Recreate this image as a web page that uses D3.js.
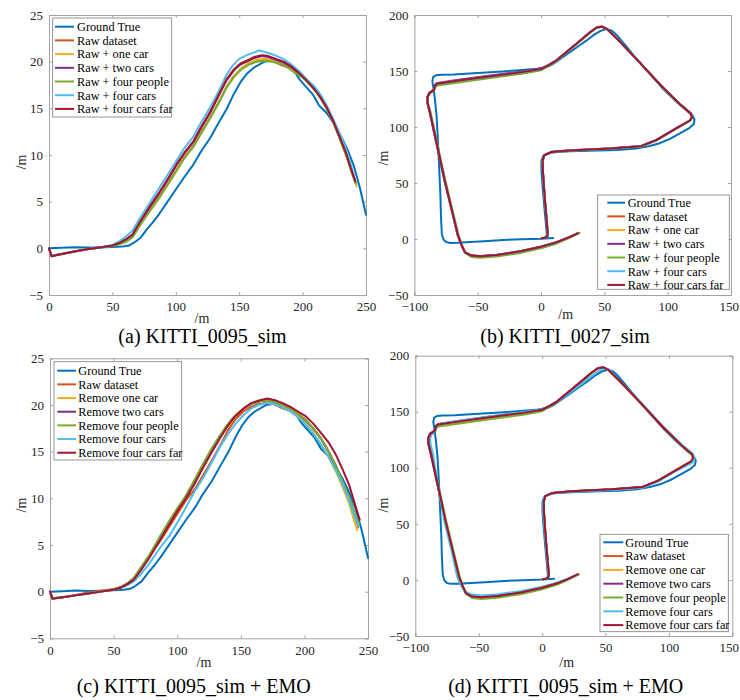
<!DOCTYPE html>
<html><head><meta charset="utf-8">
<script src="https://cdn.jsdelivr.net/npm/d3@7"></script>
<style>body{margin:0;background:#fff}svg{display:block}text{font-family:"Liberation Serif","Times New Roman",serif}</style>
</head><body><svg id="c" width="740" height="700"></svg>
<script>
// ---------- data ----------
const seriesColors = ['#0072BD','#D95319','#EDB120','#7E2F8E','#77AC30','#4DBEEE','#A2142F'];
const namesRaw = ['Ground True','Raw dataset','Raw + one car','Raw + two cars','Raw + four people','Raw + four cars','Raw + four cars far'];
const namesEMO = ['Ground True','Raw dataset','Remove one car','Remove two cars','Remove four people','Remove four cars','Remove four cars far'];
const titles = ['(a) KITTI_0095_sim','(b) KITTI_0027_sim','(c) KITTI_0095_sim + EMO','(d) KITTI_0095_sim + EMO'];
const ticksX0095 = [0,50,100,150,200,250];
const ticksY0095 = [-5,0,5,10,15,20,25];
const ticksX0027 = [-100,-50,0,50,100,150];
const ticksY0027 = [-50,0,50,100,150,200];

// KITTI_0095 trajectories
const a_gt = [[0,0],[10,0.05],[20,0.12],[30,0.08],[40,0.1],[50,0.15],[58,0.2],[63,0.3],[67,0.6],[72,1.1],[77,2.0],[82,2.8],[87,3.7],[93,4.9],[100,6.3],[107,7.7],[114,9.0],[120,10.4],[127,11.8],[134,13.5],[140,14.9],[146,16.6],[151,17.8],[156,18.7],[161,19.3],[166,19.7],[170,20.0],[175,20.1],[180,20.1],[186,19.9],[191,19.5],[194,18.9],[197,18.2],[202,17.4],[208,16.5],[213,15.3],[219,14.5],[225,13.3],[230,12.1],[235,10.7],[240,9.0],[245,6.6],[250,3.6]];
const a_raw = [[0,0],[2,-0.8],[10,-0.6],[20,-0.35],[30,-0.1],[40,0.1],[50,0.28],[56,0.5],[61,0.8],[66,1.3],[72,2.6],[80,4.2],[87,5.5],[94,7.0],[101,8.5],[107,9.8],[114,11.0],[120,12.4],[127,14.0],[134,15.7],[140,17.3],[146,18.5],[152,19.3],[158,19.8],[164,20.1],[170,20.2],[176,20.1],[182,19.7],[188,19.4],[194,18.9],[200,18.4],[206,17.6],[212,16.6],[218,15.3],[224,13.7],[230,11.6],[235,9.8],[239,8.2],[242.3,6.9]];
const a_one = [[0,0],[2,-0.8],[10,-0.6],[20,-0.35],[30,-0.1],[40,0.1],[50,0.27],[56,0.5],[61,0.75],[66,1.25],[72,2.55],[80,4.15],[87,5.45],[94,6.95],[101,8.45],[107,9.75],[114,10.95],[120,12.35],[127,13.95],[134,15.65],[140,17.25],[146,18.5],[152,19.35],[158,19.9],[164,20.2],[170,20.3],[176,20.2],[182,19.9],[188,19.5],[194,18.9],[200,18.4],[206,17.6],[212,16.6],[218,15.3],[224,13.7],[230,11.6],[235,9.7],[239,8.0],[242.8,6.6]];
const a_two = [[0,0],[2,-0.85],[10,-0.6],[20,-0.35],[30,-0.1],[40,0.1],[50,0.3],[56,0.58],[61,0.95],[66,1.45],[72,2.8],[80,4.5],[87,5.9],[94,7.4],[101,9.0],[107,10.2],[114,11.4],[120,12.9],[127,14.5],[134,16.4],[140,18.0],[146,19.1],[151,19.7],[156,20.0],[162,20.4],[168,20.6],[173,20.5],[179,20.2],[185,19.9],[191,19.4],[197,18.8],[203,18.0],[209,17.1],[214,16.2],[219,15.0],[224,13.6],[229,11.9],[234,10.2],[238,8.5],[241.5,7.1]];
const a_people = [[0,0],[2,-0.8],[10,-0.6],[20,-0.35],[30,-0.1],[40,0.1],[50,0.25],[56,0.45],[61,0.7],[66,1.2],[72,2.5],[80,4.1],[87,5.4],[94,6.9],[101,8.4],[107,9.7],[114,10.9],[120,12.3],[127,13.9],[134,15.6],[140,17.2],[146,18.4],[152,19.2],[158,19.7],[164,20.0],[170,20.1],[176,20.0],[182,19.8],[188,19.4],[194,18.8],[200,18.3],[206,17.5],[212,16.5],[218,15.2],[224,13.6],[230,11.5],[235,9.7],[239,8.1],[242,6.9]];
const a_cars = [[0,0],[2,-0.8],[10,-0.6],[20,-0.35],[30,-0.1],[40,0.1],[50,0.35],[56,0.8],[61,1.3],[66,1.9],[72,3.3],[80,5.0],[87,6.5],[94,8.0],[101,9.5],[107,10.8],[114,12.0],[120,13.5],[127,15.1],[134,16.9],[140,18.6],[145,19.6],[150,20.3],[156,20.7],[162,21.0],[166,21.2],[171,21.0],[176,20.8],[180,20.6],[186,20.2],[192,19.6],[198,18.9],[204,18.0],[209,17.4],[214,16.5],[219,15.3],[224,13.9],[229,12.4],[234,10.8],[238,9.0],[241,7.4]];
const a_far = [[0,0],[2,-0.85],[10,-0.6],[20,-0.35],[30,-0.1],[40,0.1],[50,0.3],[56,0.6],[61,1.0],[66,1.5],[72,2.9],[80,4.6],[87,6.0],[94,7.5],[101,9.1],[107,10.3],[114,11.5],[120,13.0],[127,14.6],[134,16.5],[140,18.1],[146,19.2],[151,19.8],[156,20.1],[162,20.5],[168,20.7],[173,20.6],[179,20.3],[185,20.0],[191,19.5],[197,18.8],[203,18.0],[209,17.1],[214,16.2],[219,15.1],[224,13.7],[229,12.0],[234,10.3],[238,8.6],[241.5,7.2]];

const c_one = [[0,0],[2,-0.7],[10,-0.6],[20,-0.4],[30,-0.2],[40,0.0],[50,0.2],[56,0.48],[61,0.85],[66,1.4],[71,2.35],[78,3.75],[86,5.6],[93,7.2],[100,8.75],[106,9.95],[113,11.6],[120,13.4],[127,15.1],[133,16.45],[139,17.7],[145,18.75],[152,19.6],[158,20.1],[165,20.4],[171,20.5],[177,20.3],[183,19.9],[189,19.4],[195,18.8],[201,18.0],[207,17.0],[213,15.8],[219,14.4],[225,12.8],[230,11.2],[235,9.5],[238.5,7.9],[241.5,6.6]];
const c_two = [[0,0],[2,-0.7],[10,-0.6],[20,-0.4],[30,-0.2],[40,0.0],[50,0.2],[56,0.5],[61,0.9],[66,1.45],[71,2.45],[78,3.85],[86,5.75],[93,7.35],[100,8.85],[106,10.05],[113,11.75],[120,13.55],[127,15.25],[133,16.55],[139,17.75],[145,18.75],[152,19.6],[158,20.1],[165,20.4],[171,20.5],[177,20.3],[183,20.0],[189,19.6],[195,19.1],[201,18.4],[207,17.5],[213,16.4],[219,15.0],[225,13.4],[230,11.8],[235,10.1],[239,8.5],[242.5,7.1]];
const c_people = [[0,0],[2,-0.7],[10,-0.6],[20,-0.4],[30,-0.2],[40,0.0],[50,0.2],[56,0.5],[61,0.9],[66,1.5],[71,2.5],[78,3.9],[86,5.8],[93,7.4],[100,8.9],[106,10.1],[113,11.8],[120,13.6],[127,15.3],[133,16.6],[139,17.8],[145,18.8],[152,19.6],[158,20.1],[165,20.4],[171,20.5],[177,20.3],[183,20.0],[189,19.6],[195,19.1],[201,18.4],[207,17.5],[213,16.4],[219,15.0],[225,13.4],[230,11.8],[235,10.2],[239,8.6],[243,7.2]];
const c_cars = [[0,0],[2,-0.7],[10,-0.6],[20,-0.4],[30,-0.2],[40,0.0],[50,0.2],[56,0.4],[61,0.7],[66,1.1],[71,1.8],[78,3.0],[86,4.6],[94,6.0],[101,7.6],[108,9.3],[114,10.8],[120,12.1],[127,13.8],[134,15.6],[140,16.9],[146,18.0],[152,18.9],[158,19.6],[164,20.0],[170,20.2],[176,20.1],[182,19.8],[188,19.4],[194,18.8],[200,18.1],[206,17.1],[212,16.0],[218,14.7],[224,13.2],[229,11.8],[234,10.2],[238,8.6],[242.5,7.0]];
const c_far = [[0,0],[2,-0.75],[10,-0.6],[20,-0.4],[30,-0.2],[40,0.0],[50,0.2],[56,0.45],[61,0.8],[66,1.3],[71,2.2],[78,3.6],[86,5.4],[93,7.0],[100,8.6],[106,9.8],[113,11.4],[120,13.2],[127,14.9],[133,16.3],[139,17.6],[145,18.7],[152,19.6],[158,20.2],[165,20.5],[171,20.7],[177,20.5],[183,20.2],[189,19.8],[195,19.3],[201,18.8],[207,18.0],[213,17.0],[219,16.0],[225,14.6],[230,13.1],[235,11.5],[239,9.7],[243.5,7.7]];

// KITTI_0027 trajectories
const b_gt = [[9.5,1],[0,0.3],[-15,-0.3],[-30,-0.9],[-45,-2.0],[-56,-2.7],[-66,-3.3],[-72,-3.5],[-75,-2.7],[-77,-0.5],[-78.3,4],[-79,20],[-79.5,40],[-80.5,65],[-81.5,90],[-82.5,110],[-83.8,125],[-85,135],[-85.8,141],[-85.2,144.5],[-83,146.2],[-78,146.6],[-69,146.9],[-50,148.2],[-30,149.6],[-15,150.8],[-3,152],[4.5,153.5],[9.5,156.2],[16,161.5],[23,167],[30,172.5],[36,177.3],[42,182.5],[47,185.8],[52,187.4],[56,186],[60,181.8],[67,172.5],[75,161.2],[85,148.5],[96,134.5],[106,123.5],[115,114.5],[119.5,110.5],[121.2,106.5],[120.5,102.5],[117,99],[110,94.5],[101.8,89.4],[93,85.3],[85,82.8],[75,80.8],[60,79.5],[45,79],[23,78.3],[10,77.4],[5,76.2],[1.8,74.2],[0.3,70],[0.3,62],[1,50],[2.2,34],[3.3,20],[4.3,8],[4.6,4],[4,2]];
const b_raw = [[29,5],[22,1.4],[12,-3.2],[0,-7.1],[-16,-11.2],[-35,-14.5],[-48,-15.7],[-55,-15],[-60,-12],[-62.5,-6],[-65.5,3],[-70,24],[-76,52],[-82.5,86],[-87.5,112],[-89.5,121],[-89.7,126.6],[-88,130.4],[-84.5,132.8],[-83.5,136.8],[-82,138.2],[-66.6,140.8],[-40,145],[-15,148.6],[0,151.5],[6,155],[12,159.2],[28,174.2],[39,184.7],[44,188.7],[48,189.5],[52,187.5],[62,176.4],[78,157.4],[95,136.5],[110,119.9],[118.2,111.9],[119.2,108.7],[117.5,105.7],[105,97.5],[91,88.2],[79,82.8],[55,80.7],[23,79],[8,77.5],[2.5,74.7],[1.3,70],[1.5,60],[2.8,38],[4.8,12],[5.2,5],[4.9,2.4],[3,1.1],[0.5,0.6]];
const b_one = [[29,5],[22,1.5],[12,-3.1],[0,-7],[-16,-11.1],[-35,-14.4],[-48,-15.6],[-55,-14.9],[-60,-12],[-62.5,-6],[-65.5,3],[-70,24],[-76,52],[-82.5,86],[-87.5,112],[-89.5,121],[-89.7,126.6],[-88,130.5],[-84.5,133],[-83.5,137],[-82,138.4],[-66.6,141],[-40,145.2],[-15,148.8],[0,151.7],[6,155.1],[12,159.3],[28,174.3],[39,184.8],[44,188.8],[48,189.6],[52,187.6],[62,176.5],[78,157.5],[95,136.6],[110,120],[118.2,112],[119.2,108.8],[117.5,105.8],[105,97.6],[91,88.3],[79,82.9],[55,80.8],[23,79.1],[8,77.6],[2.5,74.8],[1.3,70],[1.5,60],[2.8,38],[4.8,12],[5.2,5],[4.9,2.4],[3,1.1],[0.5,0.6]];
const b_two = [[29,5.2],[22,1.7],[12,-2.8],[0,-6.6],[-16,-10.7],[-35,-14],[-48,-15.2],[-55,-14.6],[-60.3,-11.8],[-62.8,-6],[-65.8,3],[-70.3,24],[-76.3,52],[-82.8,86],[-87.8,112],[-89.7,121],[-89.9,126.8],[-88.2,130.8],[-84.7,133.4],[-83.7,137.8],[-82,139.4],[-66.6,142],[-40,146],[-15,149.5],[0,152.2],[6,155.5],[12,159.6],[28,174.6],[39,185],[44,189],[48,189.8],[52,187.8],[62,176.7],[78,157.7],[95,136.8],[110,120.2],[118.4,112.2],[119.4,108.9],[117.7,105.9],[105,97.8],[91,88.5],[79,83.1],[55,81],[23,79.3],[8,77.8],[2.5,74.9],[1.3,70],[1.5,60],[2.8,38],[4.8,12],[5.2,5],[4.9,2.4],[3,1.1],[0.5,0.6]];
const b_people = [[30.5,5.5],[23,1.2],[12,-4.2],[0,-8.2],[-16,-12.4],[-35,-15.6],[-48,-16.8],[-55,-16],[-59.5,-12.8],[-62,-6.5],[-65,3],[-69.5,24],[-75.5,52],[-82,86],[-87,112],[-89.2,121],[-89.4,126.4],[-87.8,130],[-84.5,132.4],[-83.5,135.8],[-82,137],[-66.6,139.6],[-40,143.8],[-15,147.6],[0,150.6],[6,154.6],[12,158.9],[28,174],[39,184.6],[44,188.6],[48,189.4],[52,187.4],[62,176.3],[78,157.3],[95,136.4],[110,119.8],[118,111.7],[119,108.5],[117.3,105.4],[105,97.2],[91,87.9],[79,82.5],[55,80.5],[23,78.8],[8,77.3],[2.5,74.5],[1.3,70],[1.5,60],[2.8,38],[4.8,12],[5.2,5],[4.9,2.4],[3,1.1],[0.5,0.6]];
const b_cars = [[28.5,4.9],[22,1.4],[12,-3],[0,-6.9],[-16,-11],[-35,-14.3],[-48,-15.5],[-55,-14.8],[-60,-11.9],[-62.5,-6],[-65.5,3],[-70,24],[-76,52],[-82.5,86],[-87.5,112],[-89.5,121],[-89.7,126.6],[-88,130.5],[-84.5,133],[-83.5,137.2],[-82,138.6],[-66.6,141.2],[-40,145.4],[-15,149],[0,151.8],[6,155.2],[12,159.3],[28,174.3],[39,184.8],[44,188.8],[48,189.6],[52,187.6],[62,176.5],[78,157.5],[95,136.6],[110,120],[118.2,112],[119.2,108.8],[117.5,105.8],[105,97.6],[91,88.3],[79,82.9],[55,80.8],[23,79.1],[8,77.6],[2.5,74.8],[1.3,70],[1.5,60],[2.8,38],[4.8,12],[5.2,5],[4.9,2.4],[3,1.1],[0.5,0.6]];
const b_far = [[29,5],[22,1.5],[12,-3],[0,-6.9],[-16,-11],[-35,-14.3],[-48,-15.5],[-55,-14.8],[-60,-11.9],[-62.5,-6],[-65.5,3],[-70,24],[-76,52],[-82.5,86],[-87.5,112],[-89.5,121],[-89.7,126.6],[-88,130.5],[-84.5,133],[-83.5,137.2],[-82,138.6],[-66.6,141.2],[-40,145.4],[-15,149],[0,151.8],[6,155.2],[12,159.3],[28,174.3],[39,184.8],[44,188.8],[48,189.6],[52,187.6],[62,176.5],[78,157.5],[95,136.6],[110,120],[118.2,112],[119.2,108.8],[117.5,105.8],[105,97.6],[91,88.3],[79,82.9],[55,80.8],[23,79.1],[8,77.6],[2.5,74.8],[1.3,70],[1.5,60],[2.8,38],[4.8,12],[5.2,5],[4.9,2.4],[3,1.1],[0.5,0.6]];

const d_one = [[28,4.8],[21.5,1.3],[12,-3.1],[0,-7],[-16,-11.1],[-35,-14.4],[-48,-15.6],[-55,-14.9],[-60,-12],[-62.5,-6],[-65.5,3],[-70,24],[-76,52],[-82.5,86],[-87.5,112],[-89.5,121],[-89.7,126.6],[-88,130.5],[-84.5,133],[-83.5,137],[-82,138.4],[-66.6,141],[-40,145.2],[-15,148.8],[0,151.7],[6,155.1],[12,159.3],[28,174.3],[39,184.8],[44,188.8],[48,189.6],[52,187.6],[62,176.5],[78,157.5],[95,136.6],[110,120],[118.2,112],[119.2,108.8],[117.5,105.8],[105,97.6],[91,88.3],[79,82.9],[55,80.8],[23,79.1],[8,77.6],[2.5,74.8],[1.3,70],[1.5,60],[2.8,38],[4.8,12],[5.2,5],[4.9,2.4],[3,1.1],[0.5,0.6]];
const d_two = [[28,5],[21.5,1.6],[12,-2.8],[0,-6.6],[-16,-10.7],[-35,-14],[-48,-15.2],[-55,-14.6],[-60.3,-11.8],[-62.8,-6],[-65.8,3],[-70.3,24],[-76.3,52],[-82.8,86],[-87.8,112],[-89.7,121],[-89.9,126.8],[-88.2,130.8],[-84.7,133.4],[-83.7,137.8],[-82,139.2],[-66.6,141.8],[-40,145.9],[-15,149.4],[0,152.1],[6,155.4],[12,159.5],[28,174.5],[39,185],[44,189],[48,189.8],[52.5,187.6],[62,176.9],[78,158.1],[95,137.2],[110,120.6],[118.6,112.4],[119.6,109],[117.8,105.8],[105,97.5],[91,88.2],[79,82.8],[55,80.8],[23,79.1],[8,77.6],[2.5,74.8],[1.3,70],[1.5,60],[2.8,38],[4.8,12],[5.2,5],[4.9,2.4],[3,1.1],[0.5,0.6]];
const d_people = [[28.5,5.2],[22,1],[12,-4.2],[0,-8.3],[-16,-12.5],[-35,-15.8],[-48,-17],[-55,-16.2],[-59.5,-12.9],[-62,-6.5],[-65,3],[-69.5,24],[-75.5,52],[-82,86],[-87,112],[-89.2,121],[-89.4,126.4],[-87.8,130],[-84.5,132.4],[-83.5,135.6],[-82,136.8],[-66.6,139.4],[-40,143.6],[-15,147.4],[0,150.5],[6,154.5],[12,158.8],[28,174],[39,184.6],[44,188.6],[48,189.4],[52,187.4],[62,176.3],[78,157.3],[95,136.4],[110,119.8],[118,111.7],[119,108.5],[117.3,105.4],[105,97.2],[91,87.9],[79,82.5],[55,80.5],[23,78.8],[8,77.3],[2.5,74.5],[1.3,70],[1.5,60],[2.8,38],[4.8,12],[5.2,5],[4.9,2.4],[3,1.1],[0.5,0.6]];
const d_cars = [[28,5],[21,1.2],[11,-2.6],[0,-6],[-16,-9.8],[-35,-12.8],[-48,-13.8],[-56,-12.8],[-61,-10],[-64,-5],[-67,3],[-71,24],[-77,52],[-82.5,86],[-86,112],[-88,121],[-88.3,126.6],[-86.8,130.5],[-84,133],[-83.3,137.5],[-81.5,139.2],[-66.6,141.8],[-40,146],[-15,149.7],[0,152.2],[6,155.4],[12,159],[28,172.2],[39,181.8],[45,186.6],[49,188.6],[53,187.4],[62,176.8],[78,158],[95,137.2],[110,120.8],[118.8,112.6],[120.3,108.4],[118.5,104.6],[105,96.8],[91,87.5],[79,82.2],[55,80.2],[23,78.7],[8,77.4],[2,74.6],[0.8,70],[1,60],[2.5,38],[4.5,12],[5,5],[4.7,2.4],[3,1.1],[0.5,0.6]];
const d_far = [[28,5],[21.5,1.4],[12,-3],[0,-6.9],[-16,-11],[-35,-14.3],[-48,-15.5],[-55,-14.8],[-60,-11.9],[-62.5,-6],[-65.5,3],[-70,24],[-76,52],[-82.5,86],[-87.5,112],[-89.5,121],[-89.7,126.6],[-88,130.5],[-84.5,133],[-83.5,137.2],[-82,138.6],[-66.6,141.2],[-40,145.4],[-15,149],[0,151.8],[6,155.2],[12,159.3],[28,174.3],[39,184.8],[44,188.8],[48,189.6],[52,187.6],[62,176.5],[78,157.5],[95,136.6],[110,120],[118.2,112],[119.2,108.8],[117.5,105.8],[105,97.6],[91,88.3],[79,82.9],[55,80.8],[23,79.1],[8,77.6],[2.5,74.8],[1.3,70],[1.5,60],[2.8,38],[4.8,12],[5.2,5],[4.9,2.4],[3,1.1],[0.5,0.6]];

// ---------- layout ----------
const panels = [
  {box:{l:49,r:366,t:15,b:295}, xd:[0,250], yd:[-5,25], xt:ticksX0095, yt:ticksY0095,
   series:[a_gt,a_raw,a_one,a_two,a_people,a_cars,a_far], names:namesRaw, title:titles[0],
   leg:{x0:52.7,x1:171.7,y0:18,y1:117,r0:26.7,step:13.7,lx0:55,lx1:74,tx:77},
   tc:[202.5,343], xl:[202,323], yl:[21,162]},
  {box:{l:414.4,r:731,t:15,b:295}, xd:[-100,150], yd:[-50,200], xt:ticksX0027, yt:ticksY0027,
   series:[b_gt,b_raw,b_one,b_two,b_people,b_cars,b_far], names:namesRaw, title:titles[1],
   leg:{x0:597.7,x1:729.3,y0:195,y1:289.3,r0:202.7,step:13.7,lx0:607.3,lx1:625,tx:627.7},
   tc:[565,343], xl:[565.7,319], yl:[383,158]},
  {box:{l:50,r:368,t:358.3,b:638.3}, xd:[0,250], yd:[-5,25], xt:ticksX0095, yt:ticksY0095,
   series:[a_gt,a_raw,c_one,c_two,c_people,c_cars,c_far], names:namesEMO, title:titles[2],
   leg:{x0:54,x1:181.7,y0:361.7,y1:460,r0:370.7,step:13.67,lx0:57.3,lx1:76,tx:78.3},
   tc:[193.7,693], xl:[204,667], yl:[21,505]},
  {box:{l:415.3,r:732.3,t:355.7,b:636}, xd:[-100,150], yd:[-50,200], xt:ticksX0027, yt:ticksY0027,
   series:[b_gt,b_raw,d_one,d_two,d_people,d_cars,d_far], names:namesEMO, title:titles[3],
   leg:{x0:600,x1:728.3,y0:534.3,y1:631.7,r0:542.3,step:13.8,lx0:603.3,lx1:623.3,tx:625.3},
   tc:[565.7,693], xl:[566.7,667], yl:[383,505]}
];

const svg = d3.select('#c');
const FONT = '"Liberation Serif","Times New Roman",serif';
const AX = '#a3a3a3', TXT = '#262626';

panels.forEach(p => {
  const x = d3.scaleLinear().domain(p.xd).range([p.box.l, p.box.r]);
  const y = d3.scaleLinear().domain(p.yd).range([p.box.b, p.box.t]);
  const g = svg.append('g');
  const tl = 3;
  const axes = [
    g.append('g').attr('transform',`translate(0,${p.box.b})`)
      .call(d3.axisBottom(x).tickValues(p.xt).tickSize(-tl).tickPadding(7).tickFormat(d3.format('d'))),
    g.append('g').attr('transform',`translate(0,${p.box.t})`)
      .call(d3.axisTop(x).tickValues(p.xt).tickSize(-tl).tickFormat('')),
    g.append('g').attr('transform',`translate(${p.box.l},0)`)
      .call(d3.axisLeft(y).tickValues(p.yt).tickSize(-tl).tickPadding(6).tickFormat(d3.format('d'))),
    g.append('g').attr('transform',`translate(${p.box.r},0)`)
      .call(d3.axisRight(y).tickValues(p.yt).tickSize(-tl).tickFormat(''))
  ];
  axes.forEach(a => a.attr('font-family', FONT).attr('font-size', 13));
  g.selectAll('.domain').attr('stroke',AX).attr('stroke-width',1);
  g.selectAll('.tick line').attr('stroke',AX);
  g.selectAll('.tick text').attr('fill',TXT).attr('font-family',FONT).attr('font-size',13);
  // keep the right-most x tick label inside the page, as in the reference
  axes[0].selectAll('.tick text').each(function(){
    const bb = this.getBBox();
    const tr = this.parentNode.transform.baseVal.consolidate();
    const tx = tr ? tr.matrix.e : 0;
    if (tx + bb.x + bb.width > 739) d3.select(this).attr('text-anchor','end').attr('x', 739 - tx);
  });

  const line = d3.line().x(d=>x(d[0])).y(d=>y(d[1]));
  p.series.forEach((s,i) => {
    g.append('path').datum(s).attr('d',line).attr('fill','none')
      .attr('stroke',seriesColors[i]).attr('stroke-width',2).attr('stroke-linejoin','round').attr('stroke-linecap','round');
  });

  // legend
  const L = p.leg;
  g.append('rect').attr('x',L.x0).attr('y',L.y0).attr('width',L.x1-L.x0).attr('height',L.y1-L.y0)
    .attr('fill','#fff').attr('stroke','#7a7a7a').attr('stroke-width',0.8);
  p.names.forEach((n,i) => {
    const yy = L.r0 + i*L.step;
    g.append('line').attr('x1',L.lx0).attr('x2',L.lx1).attr('y1',yy).attr('y2',yy)
      .attr('stroke',seriesColors[i]).attr('stroke-width',2);
    g.append('text').attr('x',L.tx).attr('y',yy).attr('dy','0.35em').text(n)
      .attr('font-family',FONT).attr('font-size',12.3).attr('fill','#000');
  });

  // labels
  g.append('text').attr('x',p.xl[0]).attr('y',p.xl[1]).attr('text-anchor','middle').text('/m')
    .attr('font-family',FONT).attr('font-size',14).attr('fill',TXT);
  g.append('text').attr('transform',`translate(${p.yl[0]},${p.yl[1]}) rotate(-90)`).attr('text-anchor','middle')
    .attr('dy','0.35em').text('/m').attr('font-family',FONT).attr('font-size',14).attr('fill',TXT);
  g.append('text').attr('x',p.tc[0]).attr('y',p.tc[1]).attr('text-anchor','middle').text(p.title)
    .attr('font-family',FONT).attr('font-size',20).attr('fill','#000');
});
</script></body></html>
